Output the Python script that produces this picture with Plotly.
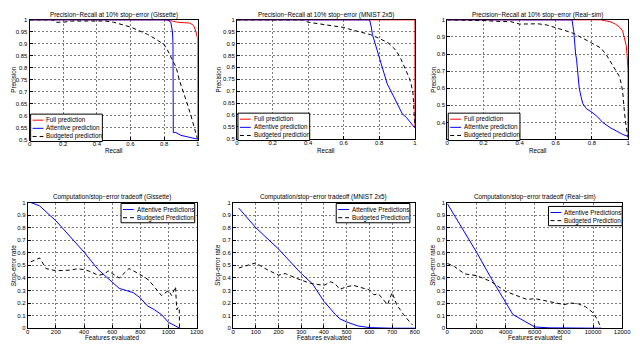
import plotly.graph_objects as go

# The page puts the figure 8px in from the window's top-left corner, so the
# figure is sized to the visible part and all layout is given in window pixels.
WIN_W, WIN_H = 640, 344
OFF = 8
W, H = WIN_W - OFF, WIN_H - OFF

# --------------------------------------------------------------------------- #
# Data: precision-recall at 10% stop-error (top row)
# --------------------------------------------------------------------------- #
gis_full_recall = [0, 0.8, 0.85, 0.88, 0.92, 0.95, 0.97, 0.98, 0.99, 0.995, 1.0, 1.0]
gis_full_prec = [1, 1, 0.995, 0.99, 0.988, 0.987, 0.98, 0.97, 0.95, 0.93, 0.92, 0.5]
gis_att_recall = [0, 0.82, 0.84, 0.85, 0.853, 0.855, 0.87, 0.88, 0.9, 0.95, 1.0]
gis_att_prec = [1, 1, 0.99, 0.95, 0.9, 0.53, 0.53, 0.525, 0.518, 0.51, 0.502]
gis_bud_recall = [0, 0.14, 0.15, 0.2, 0.25, 0.45, 0.5, 0.55, 0.6, 0.65, 0.7, 0.75, 0.8,
                  0.82, 0.845, 0.86, 0.873, 0.89, 0.916, 0.938, 0.96, 0.98, 1.0]
gis_bud_prec = [1, 1, 0.99, 0.99, 0.995, 0.995, 0.99, 0.98, 0.97, 0.955, 0.94, 0.92, 0.897,
                0.874, 0.84, 0.82, 0.8, 0.75, 0.7, 0.65, 0.6, 0.55, 0.5]

mn_full_recall = [0, 1.0, 1.0]
mn_full_prec = [1, 1, 0.545]
mn_att_recall = [0, 0.746, 0.755, 0.762, 0.777, 0.805, 0.823, 0.845, 0.866, 0.893, 0.912,
                 0.93, 0.952, 0.97, 0.994, 1.0]
mn_att_prec = [1, 1, 0.97, 0.938, 0.9, 0.831, 0.79, 0.73, 0.70, 0.662, 0.636, 0.604, 0.59,
               0.574, 0.552, 0.545]
mn_bud_recall = [0, 0.372, 0.4, 0.45, 0.5, 0.55, 0.6, 0.65, 0.7, 0.75, 0.8, 0.85, 0.88, 0.9,
                 0.92, 0.94, 0.96, 0.97, 0.98, 0.99, 1.0]
mn_bud_prec = [1, 1, 0.99, 0.984, 0.98, 0.974, 0.968, 0.957, 0.948, 0.938, 0.922, 0.903,
               0.883, 0.864, 0.838, 0.805, 0.773, 0.753, 0.727, 0.688, 0.55]

rs_full_recall = [0, 0.848, 0.88, 0.9, 0.93, 0.95, 0.97, 0.98, 0.99, 0.995, 1.0, 1.0]
rs_full_prec = [1, 1, 0.993, 0.99, 0.975, 0.96, 0.935, 0.9, 0.85, 0.79, 0.7, 0.31]
rs_att_recall = [0, 0.69, 0.7, 0.702, 0.71, 0.715, 0.72, 0.725, 0.73, 0.74, 0.75, 0.77, 0.8,
                 0.83, 0.86, 0.9, 0.94, 0.97, 1.0]
rs_att_prec = [1, 1, 0.93, 0.9, 0.8, 0.77, 0.71, 0.646, 0.60, 0.55, 0.51, 0.48, 0.46, 0.434,
               0.40, 0.37, 0.345, 0.33, 0.318]
rs_bud_recall = [0, 0.18, 0.2, 0.3, 0.35, 0.4, 0.5, 0.55, 0.6, 0.65, 0.7, 0.75, 0.8, 0.85,
                 0.88, 0.9, 0.93, 0.95, 0.96, 0.97, 0.98, 0.99, 1.0]
rs_bud_prec = [1, 1, 0.996, 0.99, 0.99, 0.975, 0.977, 0.97, 0.956, 0.938, 0.92, 0.894, 0.864,
               0.835, 0.796, 0.76, 0.708, 0.673, 0.637, 0.584, 0.46, 0.37, 0.32]

# --------------------------------------------------------------------------- #
# Data: computation / stop-error tradeoff (bottom row)
# --------------------------------------------------------------------------- #
gis_att_feat = [22, 84, 200, 300, 400, 500, 600, 650, 700, 750, 800, 850, 900, 950, 1000,
                1050, 1080]
gis_att_rate = [1.0, 0.974, 0.855, 0.73, 0.606, 0.467, 0.37, 0.317, 0.30, 0.283, 0.24, 0.178,
                0.147, 0.108, 0.047, 0.021, 0.0]
gis_bud_feat = [22, 85, 130, 200, 300, 350, 400, 450, 500, 550, 570, 620, 650, 720, 800, 860,
                900, 950, 1000, 1022, 1050, 1058, 1068, 1076, 1078]
gis_bud_rate = [0.528, 0.559, 0.475, 0.457, 0.462, 0.472, 0.467, 0.449, 0.42, 0.433, 0.457,
                0.42, 0.40, 0.475, 0.427, 0.383, 0.325, 0.26, 0.30, 0.26, 0.33, 0.147, 0.165,
                0.165, 0.0]

mn_att_feat = [25, 100, 200, 300, 350, 400, 450, 470, 500, 550, 600, 650, 700, 800]
mn_att_rate = [0.956, 0.80, 0.63, 0.435, 0.352, 0.214, 0.11, 0.075, 0.05, 0.018, 0.005, 0.002,
               0.0, 0.0]
mn_bud_feat = [25, 75, 100, 130, 150, 200, 230, 280, 300, 340, 400, 430, 450, 470, 500, 530,
               560, 600, 620, 640, 680, 700, 720, 750, 780, 790]
mn_bud_rate = [0.479, 0.508, 0.52, 0.487, 0.466, 0.422, 0.435, 0.396, 0.383, 0.357, 0.341,
               0.37, 0.352, 0.31, 0.33, 0.341, 0.325, 0.305, 0.266, 0.273, 0.188, 0.284, 0.188,
               0.11, 0.044, 0.026]

rs_att_feat = [0, 1000, 2000, 3000, 4000, 4500, 5000, 6000, 7000, 10500]
rs_att_rate = [0.992, 0.80, 0.607, 0.40, 0.20, 0.11, 0.076, 0.01, 0.003, 0.0]
rs_bud_feat = [0, 500, 1200, 2000, 3000, 4000, 5000, 5500, 6000, 7000, 8000, 8500, 9000, 9500,
               10000, 10300, 10500, 10550]
rs_bud_rate = [0.516, 0.49, 0.432, 0.419, 0.372, 0.293, 0.249, 0.228, 0.236, 0.215, 0.188, 0.2,
               0.194, 0.17, 0.123, 0.07, 0.024, 0.0]

# tick labels
pr_x_ticks = [0, 0.2, 0.4, 0.6, 0.8, 1]
pr_x_text = ["0", "0.2", "0.4", "0.6", "0.8", "1"]
pr_y_ticks = [0.5, 0.55, 0.6, 0.65, 0.7, 0.75, 0.8, 0.85, 0.9, 0.95, 1]
pr_y_text = ["0.5", "0.55", "0.6", "0.65", "0.7", "0.75", "0.8", "0.85", "0.9", "0.95", "1"]
rs_y_ticks = [0.4, 0.5, 0.6, 0.7, 0.8, 0.9, 1]
rs_y_text = ["0.4", "0.5", "0.6", "0.7", "0.8", "0.9", "1"]
rate_ticks = [0, 0.1, 0.2, 0.3, 0.4, 0.5, 0.6, 0.7, 0.8, 0.9, 1]
rate_text = ["0", "0.1", "0.2", "0.3", "0.4", "0.5", "0.6", "0.7", "0.8", "0.9", "1"]
gis_feat_ticks = [0, 200, 400, 600, 800, 1000, 1200]
mn_feat_ticks = [0, 100, 200, 300, 400, 500, 600, 700, 800]
rs_feat_ticks = [0, 2000, 4000, 6000, 8000, 10000, 12000]

pr_titles = ["Precision−Recall at 10% stop−error (Gissette)",
             "Precision−Recall at 10% stop−error (MNIST 2x5)",
             "Precision−Recall at 10% stop−error (Real−sim)"]
tr_titles = ["Computation/stop−error tradeoff (Gissette)",
             "Computation/stop−error tradeoff (MNIST 2x5)",
             "Computation/stop−error tradeoff (Real−sim)"]
pr_legend = ["Full prediction", "Attentive prediction", "Budgeted prediction"]
tr_legend = ["Attentive Predictions", "Budgeted Prediction"]

# --------------------------------------------------------------------------- #
# Style
# --------------------------------------------------------------------------- #
FONT = "Liberation Sans, Arial, sans-serif"
TICK_FONT = "Liberation Sans Narrow, Arial Narrow, Liberation Sans, Arial, sans-serif"
RED = "#ff0000"
BLUE = "#0000ff"
BLACK = "#000000"
GRID = "#7a7a7a"
DASH = "4px,3px"

# panel boxes in window pixels: (left, right, top, bottom)
PANELS = [
    (28, 199, 17, 139),
    (239, 420, 17, 138),
    (453, 637, 17, 138),
    (26, 198, 203, 331),
    (235, 420, 203, 331),
    (453, 631, 203, 331),
]


def px_x(x):
    return (x - OFF) / W


def px_y(y):
    return 1 - (y - OFF) / H


fig = go.Figure()


def add_line(i, x, y, color, dash="solid"):
    fig.add_trace(go.Scatter(
        x=x, y=y, mode="lines", xaxis=f"x{i}", yaxis=f"y{i}", showlegend=False,
        line=dict(color=color, width=1, dash=dash),
    ))


def setup_axes(i, xr, yr, xt, xtt, yt, ytt):
    l, r, t, b = PANELS[i - 1]
    common = dict(
        showline=True, mirror=True, linecolor=BLACK, linewidth=1, layer="below traces",
        ticks="inside", ticklen=3, tickcolor=BLACK, zeroline=False,
        showgrid=True, gridcolor=GRID, griddash="2px,2px", gridwidth=1,
        tickfont=dict(size=6, family=TICK_FONT, color=BLACK),
    )
    fig.layout[f"xaxis{i}"] = dict(
        common, domain=[px_x(l), px_x(r)], range=xr, tickvals=xt, ticktext=xtt,
        anchor=f"y{i}", ticklabelstandoff=-2,
    )
    fig.layout[f"yaxis{i}"] = dict(
        common, domain=[px_y(b), px_y(t)], range=yr, tickvals=yt, ticktext=ytt,
        anchor=f"x{i}",
    )


def text(x, y, s, size=6.3, angle=0, xanchor="center"):
    fig.add_annotation(
        x=px_x(x), y=px_y(y), xref="paper", yref="paper", text=s, showarrow=False,
        xanchor=xanchor, yanchor="middle", textangle=angle,
        font=dict(size=size, family=FONT, color=BLACK),
    )


def legend_box(l, t, w, rows, step):
    """MATLAB-style legend drawn with shapes; rows = [(label, color, dash)]."""
    h = step * len(rows) + 3
    fig.add_shape(type="rect", xref="paper", yref="paper",
                  x0=px_x(l), x1=px_x(l + w), y0=px_y(t + h), y1=px_y(t),
                  line=dict(color=BLACK, width=1), fillcolor="white", layer="above")
    for k, (label, color, dash) in enumerate(rows):
        y = t + 2 + step * (k + 0.5)
        fig.add_shape(type="line", xref="paper", yref="paper",
                      x0=px_x(l + 2), x1=px_x(l + 13), y0=px_y(y), y1=px_y(y),
                      line=dict(color=color, width=1, dash=dash), layer="above")
        text(l + 14, y, label, xanchor="left")


# ---- top row: precision-recall ----
pr_sets = [
    (1, gis_full_recall, gis_full_prec, gis_att_recall, gis_att_prec, gis_bud_recall, gis_bud_prec),
    (2, mn_full_recall, mn_full_prec, mn_att_recall, mn_att_prec, mn_bud_recall, mn_bud_prec),
    (3, rs_full_recall, rs_full_prec, rs_att_recall, rs_att_prec, rs_bud_recall, rs_bud_prec),
]
for i, fr, fp, ar, ap, br, bp in pr_sets:
    add_line(i, fr, fp, RED)
    add_line(i, ar, ap, BLUE)
    add_line(i, br, bp, BLACK, DASH)

setup_axes(1, [0, 1], [0.5, 1], pr_x_ticks, pr_x_text, pr_y_ticks, pr_y_text)
setup_axes(2, [0, 1], [0.5, 1], pr_x_ticks, pr_x_text, pr_y_ticks, pr_y_text)
setup_axes(3, [0, 1], [0.305, 1], pr_x_ticks, pr_x_text, rs_y_ticks, rs_y_text)

# ---- bottom row: computation tradeoff ----
tr_sets = [
    (4, gis_att_feat, gis_att_rate, gis_bud_feat, gis_bud_rate),
    (5, mn_att_feat, mn_att_rate, mn_bud_feat, mn_bud_rate),
    (6, rs_att_feat, rs_att_rate, rs_bud_feat, rs_bud_rate),
]
for i, af, ar, bf, br in tr_sets:
    add_line(i, af, ar, BLUE)
    add_line(i, bf, br, BLACK, DASH)

setup_axes(4, [0, 1200], [0, 1], gis_feat_ticks, [str(v) for v in gis_feat_ticks], rate_ticks, rate_text)
setup_axes(5, [0, 800], [0, 1], mn_feat_ticks, [str(v) for v in mn_feat_ticks], rate_ticks, rate_text)
setup_axes(6, [0, 12000], [0, 1], rs_feat_ticks, [str(v) for v in rs_feat_ticks], rate_ticks, rate_text)

# ---- titles and axis labels ----
ylab_x = [12, 220, 439]
for k in range(3):
    l, r, t, b = PANELS[k]
    text((l + r) / 2, 12.5, pr_titles[k])
    text((l + r) / 2, 150.5, "Recall")
    text(ylab_x[k], (t + b) / 2, "Precision", angle=-90)

    l, r, t, b = PANELS[k + 3]
    text((l + r) / 2, 197, tr_titles[k])
    text((l + r) / 2, 340.5, "Features evaluated")
    text(ylab_x[k], (t + b) / 2, "Stop-error rate", angle=-90)

# ---- legends ----
pr_styles = [(RED, "solid"), (BLUE, "solid"), (BLACK, DASH)]
for k in range(3):
    l, r, t, b = PANELS[k]
    rows = [(pr_legend[j],) + pr_styles[j] for j in range(3)]
    legend_box(l + 1, b - 26, 73, rows, 8.3)

tr_styles = [(BLUE, "solid"), (BLACK, DASH)]
tr_legend_left = [121, 340, 556]
tr_legend_top = [204, 204, 207]
for k in range(3):
    rows = [(tr_legend[j],) + tr_styles[j] for j in range(2)]
    legend_box(tr_legend_left[k], tr_legend_top[k], 75, rows, 8.3)

fig.update_layout(
    width=W, height=H, margin=dict(l=0, r=0, t=0, b=0),
    paper_bgcolor="white", plot_bgcolor="white", showlegend=False,
    font=dict(family=FONT, size=6.3, color=BLACK),
)

fig.write_html("out.html")
